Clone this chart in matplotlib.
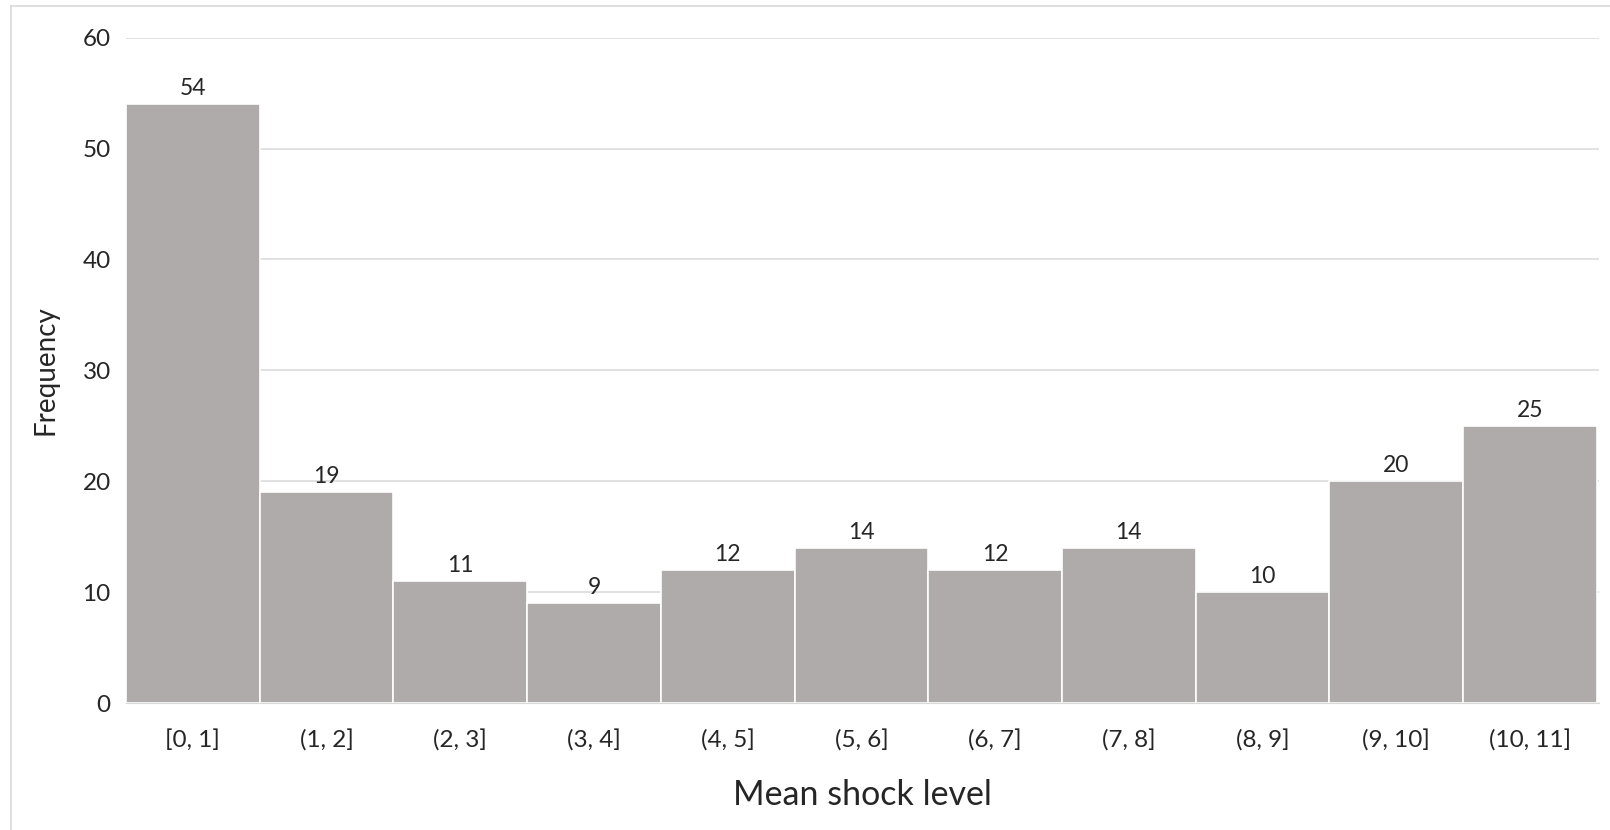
import matplotlib.pyplot as plt
from matplotlib.lines import Line2D

plt.rcParams['font.family'] = ['Lato', 'DejaVu Sans']

bins = ["[0, 1]", "(1, 2]", "(2, 3]", "(3, 4]", "(4, 5]", "(5, 6]",
        "(6, 7]", "(7, 8]", "(8, 9]", "(9, 10]", "(10, 11]"]
counts = [54, 19, 11, 9, 12, 14, 12, 14, 10, 20, 25]
y_ticks = [0, 10, 20, 30, 40, 50, 60]

fig = plt.figure(figsize=(16.1, 8.3), dpi=100)
ax = fig.add_axes([0.0783, 0.153, 0.9147, 0.8016])

x = list(range(len(bins)))
bars = ax.bar(x, counts, width=1.0, color="#AEABAA", edgecolor="white",
              linewidth=1.2, zorder=3)
for b, c in zip(bars, counts):
    ax.text(b.get_x() + b.get_width() / 2, c + 0.45, str(c), ha="center",
            va="bottom", fontsize=16.5, color="#262626")

ax.set_xlim(-0.5, len(bins) - 0.5 + 0.015)
ax.set_ylim(0, 60)
ax.set_yticks(y_ticks)
ax.yaxis.grid(True, color="#D9D9D9", linewidth=1.1, zorder=0)
ax.set_xticks(x)
ax.set_xticklabels(bins)
ax.tick_params(length=0, labelsize=17.5, labelcolor="#262626")
ax.tick_params(axis="x", pad=19)
ax.tick_params(axis="y", pad=11)
for s in ["top", "right", "left"]:
    ax.spines[s].set_visible(False)
ax.spines["bottom"].set_color("#D9D9D9")

ax.set_xlabel("Mean shock level", fontsize=24.5, color="#262626", labelpad=20)
ax.set_ylabel("Frequency", fontsize=20, color="#262626", labelpad=17)

# light frame around the chart area
W, H = 1610, 830
fig.add_artist(Line2D([10.5 / W, 10.5 / W], [0, 1 - 6.5 / H],
                      color="#D9D9D9", linewidth=1.2, transform=fig.transFigure))
fig.add_artist(Line2D([10.5 / W, 1], [1 - 6.5 / H, 1 - 6.5 / H],
                      color="#D9D9D9", linewidth=1.2, transform=fig.transFigure))

fig.savefig("out.png", dpi=100)
